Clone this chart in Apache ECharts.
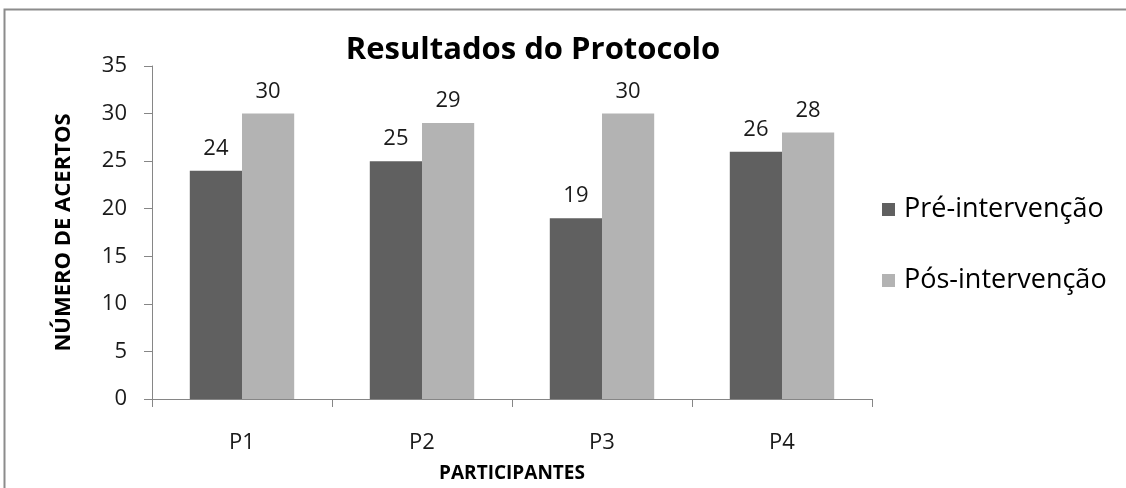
<!DOCTYPE html>
<html>
<head>
<meta charset="utf-8">
<style>
  html, body { margin: 0; padding: 0; background: #ffffff; }
  #chart { width: 1126px; height: 488px; }
</style>
<script src="https://cdn.jsdelivr.net/npm/echarts@6/dist/echarts.min.js"></script>
</head>
<body>
<div id="chart"></div>
<script>
// Participants and protocol scores before and after the intervention
const categories = ['P1', 'P2', 'P3', 'P4'];
const preIntervencao = [24, 25, 19, 26];
const posIntervencao = [30, 29, 30, 28];
const seriesNames = ['Pré-intervenção', 'Pós-intervenção'];
const yTicks = { min: 0, max: 35, interval: 5 };

const FONT = '"Open Sans", Lato, sans-serif';
const chart = echarts.init(document.getElementById('chart'), null, { renderer: 'canvas' });

const labelStyle = {
  show: true,
  position: 'top',
  distance: 11,
  color: '#1a1a1a',
  fontFamily: FONT,
  fontSize: 22
};

chart.setOption({
  animation: false,
  backgroundColor: '#ffffff',
  title: {
    text: 'Resultados do Protocolo',
    left: 528,
    textAlign: 'center',
    top: 30,
    textStyle: { fontFamily: FONT, fontWeight: 'bold', fontSize: 31, color: '#000000' }
  },
  // outer chart frame
  graphic: [{
    type: 'rect',
    shape: { x: 4.5, y: 9.5, width: 1200, height: 600 },
    style: { fill: 'none', stroke: '#8c8c8c', lineWidth: 2 },
    silent: true
  }],
  legend: {
    orient: 'vertical',
    left: 877,
    top: 191,
    itemWidth: 13,
    itemHeight: 13,
    itemGap: 44,
    icon: 'rect',
    textStyle: { fontFamily: FONT, fontSize: 27, color: '#000000', padding: [0, 0, 0, 4] },
    data: seriesNames
  },
  grid: { left: 152, width: 720, top: 66, height: 337, containLabel: false },
  xAxis: {
    type: 'category',
    data: categories,
    name: 'PARTICIPANTES',
    nameLocation: 'middle',
    nameGap: 65,
    nameTextStyle: { fontFamily: FONT, fontWeight: 'bold', fontSize: 19, color: '#000000' },
    axisLine: { lineStyle: { color: '#868686', width: 1 } },
    axisTick: { show: true, alignWithLabel: false, length: 8, lineStyle: { color: '#868686' } },
    axisLabel: { fontFamily: FONT, fontSize: 22, color: '#1a1a1a', margin: 33 }
  },
  yAxis: {
    type: 'value',
    min: yTicks.min,
    max: yTicks.max,
    interval: yTicks.interval,
    name: 'NÚMERO DE ACERTOS',
    nameLocation: 'middle',
    nameGap: 77,
    nameRotate: 90,
    nameTextStyle: { fontFamily: FONT, fontWeight: 'bold', fontSize: 22, color: '#000000' },
    axisLine: { show: true, lineStyle: { color: '#868686', width: 1 } },
    axisTick: { show: true, length: 8, lineStyle: { color: '#868686' } },
    axisLabel: { fontFamily: FONT, fontSize: 22, color: '#1a1a1a', margin: 25 },
    splitLine: { show: false }
  },
  series: [
    {
      name: seriesNames[0],
      type: 'bar',
      data: preIntervencao,
      barGap: '0%',
      barCategoryGap: '42%',
      itemStyle: { color: '#606060' },
      label: labelStyle
    },
    {
      name: seriesNames[1],
      type: 'bar',
      data: posIntervencao,
      barGap: '0%',
      barCategoryGap: '42%',
      itemStyle: { color: '#b3b3b3' },
      label: labelStyle
    }
  ]
});
</script>
</body>
</html>
